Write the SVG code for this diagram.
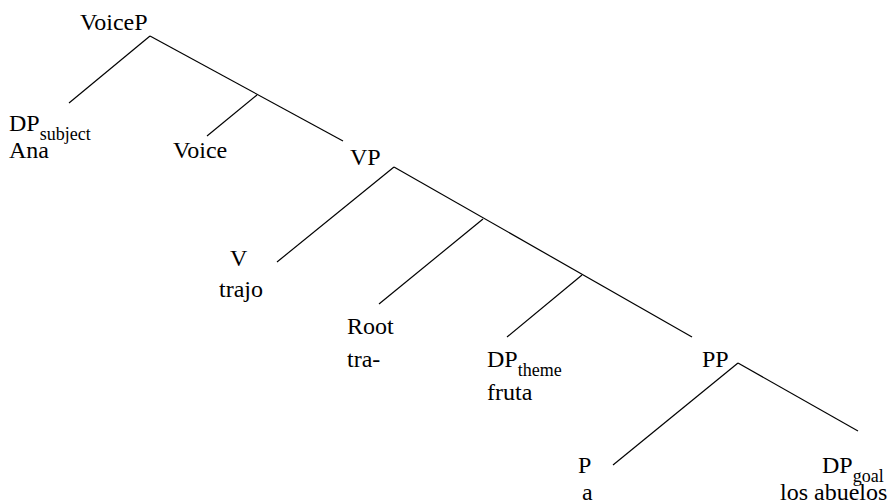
<svg xmlns="http://www.w3.org/2000/svg" width="892" height="503" viewBox="0 0 892 503">
<style>
text{font-family:"Liberation Serif","Times New Roman","DejaVu Serif",serif;font-size:24px;fill:#000}
.sub{font-size:18px}
.edge{stroke:#000;stroke-width:1.2;fill:none}
</style>
<rect width="892" height="503" fill="#fff"/>
<g id="connectors">
<line class="edge" x1="150" y1="36" x2="69" y2="103"/>
<line class="edge" x1="150" y1="36" x2="343" y2="141"/>
<line class="edge" x1="257" y1="95" x2="207" y2="136"/>
<line class="edge" x1="394" y1="167" x2="277" y2="262"/>
<line class="edge" x1="394" y1="167" x2="692" y2="337"/>
<line class="edge" x1="483" y1="219" x2="379" y2="304"/>
<line class="edge" x1="582" y1="275" x2="507" y2="337"/>
<line class="edge" x1="738" y1="363" x2="613" y2="465"/>
<line class="edge" x1="738" y1="363" x2="858" y2="431"/>
</g>
<g font-family="Liberation Serif, Times New Roman, serif">
<g id="n-voicep"><text x="80" y="30">VoiceP</text></g>
<g id="n-dpsubject"><text x="9" y="131">DP<tspan class="sub" dy="9">subject</tspan></text><text x="9" y="158">Ana</text></g>
<g id="n-voice"><text x="173" y="158">Voice</text></g>
<g id="n-vp"><text x="350" y="165">VP</text></g>
<g id="n-v"><text x="230" y="266">V</text><text x="219" y="297">trajo</text></g>
<g id="n-root"><text x="347" y="334">Root</text><text x="347" y="367">tra-</text></g>
<g id="n-dptheme"><text x="487" y="367">DP<tspan class="sub" dy="9">theme</tspan></text><text x="487" y="400">fruta</text></g>
<g id="n-pp"><text x="702" y="367">PP</text></g>
<g id="n-p"><text x="578" y="473">P</text><text x="582" y="500">a</text></g>
<g id="n-dpgoal"><text x="822" y="473">DP<tspan class="sub" dy="9">goal</tspan></text><text x="780" y="500">los abuelos</text></g>
</g>
</svg>
